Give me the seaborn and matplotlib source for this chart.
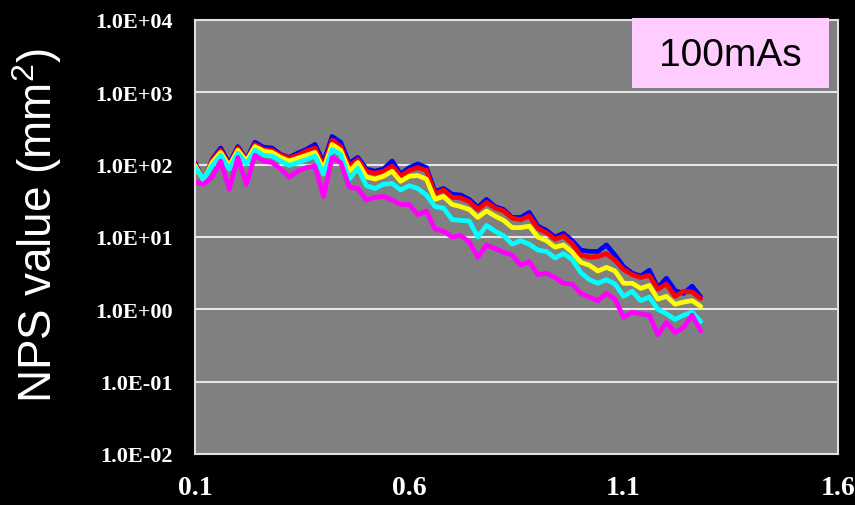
import numpy as np
import pandas as pd
import matplotlib
matplotlib.use("Agg")
import matplotlib.pyplot as plt
import seaborn as sns
from matplotlib.patches import Rectangle
from matplotlib.ticker import NullLocator

# spatial frequency (cycles/mm)
freq = [0.10, 0.12, 0.14, 0.16, 0.18, 0.20, 0.22, 0.24, 0.26, 0.28,
        0.30, 0.32, 0.34, 0.36, 0.38, 0.40, 0.42, 0.44, 0.46, 0.48,
        0.50, 0.52, 0.54, 0.56, 0.58, 0.60, 0.62, 0.64, 0.66, 0.68,
        0.70, 0.72, 0.74, 0.76, 0.78, 0.80, 0.82, 0.84, 0.86, 0.88,
        0.90, 0.92, 0.94, 0.96, 0.98, 1.00, 1.02, 1.04, 1.06, 1.08,
        1.10, 1.12, 1.14, 1.16, 1.18, 1.20, 1.22, 1.24, 1.26, 1.28]

# log10 of NPS
blue_log = [2.03, 1.76, 2.07, 2.23, 2.01, 2.25, 2.07, 2.31, 2.24, 2.23,
            2.14, 2.10, 2.16, 2.21, 2.28, 2.03, 2.39, 2.31, 2.02, 2.10,
            1.94, 1.91, 1.94, 2.05, 1.87, 1.96, 2.01, 1.96, 1.63, 1.67,
            1.59, 1.58, 1.52, 1.41, 1.52, 1.42, 1.38, 1.27, 1.27, 1.34,
            1.15, 1.09, 1.00, 1.05, 0.95, 0.82, 0.80, 0.80, 0.89, 0.75,
            0.59, 0.50, 0.46, 0.54, 0.30, 0.43, 0.26, 0.22, 0.32, 0.17]
red_log = [2.01, 1.77, 2.06, 2.20, 1.99, 2.23, 2.06, 2.28, 2.21, 2.20,
           2.13, 2.09, 2.13, 2.19, 2.23, 1.99, 2.34, 2.25, 1.98, 2.07,
           1.91, 1.88, 1.91, 1.98, 1.84, 1.92, 1.96, 1.92, 1.60, 1.65,
           1.55, 1.54, 1.49, 1.38, 1.48, 1.40, 1.36, 1.26, 1.24, 1.29,
           1.12, 1.06, 0.97, 1.01, 0.91, 0.75, 0.72, 0.73, 0.77, 0.68,
           0.55, 0.48, 0.44, 0.47, 0.28, 0.35, 0.18, 0.25, 0.24, 0.15]
yellow_log = [1.99, 1.78, 2.03, 2.17, 1.98, 2.20, 2.05, 2.25, 2.19, 2.17,
              2.10, 2.05, 2.09, 2.13, 2.17, 1.94, 2.28, 2.20, 1.91, 2.03,
              1.83, 1.80, 1.84, 1.91, 1.77, 1.84, 1.85, 1.80, 1.52, 1.56,
              1.45, 1.42, 1.38, 1.27, 1.36, 1.29, 1.23, 1.13, 1.13, 1.15,
              1.00, 0.95, 0.86, 0.89, 0.79, 0.65, 0.61, 0.53, 0.58, 0.53,
              0.36, 0.36, 0.29, 0.33, 0.14, 0.18, 0.07, 0.10, 0.12, 0.04]
cyan_log = [1.96, 1.80, 1.99, 2.13, 1.94, 2.16, 2.01, 2.20, 2.13, 2.12,
            2.05, 1.99, 2.03, 2.07, 2.12, 1.87, 2.21, 2.14, 1.80, 1.95,
            1.71, 1.67, 1.73, 1.74, 1.65, 1.71, 1.67, 1.58, 1.42, 1.40,
            1.24, 1.23, 1.22, 1.00, 1.16, 1.08, 1.02, 0.90, 0.95, 0.90,
            0.82, 0.80, 0.71, 0.77, 0.69, 0.51, 0.41, 0.36, 0.41, 0.35,
            0.18, 0.25, 0.12, 0.17, 0.00, -0.06, -0.14, -0.08, -0.04, -0.17]
magenta_log = [1.76, 1.73, 1.83, 2.05, 1.66, 2.10, 1.73, 2.13, 2.05, 2.03,
               1.94, 1.83, 1.91, 1.96, 1.98, 1.56, 2.10, 2.03, 1.69, 1.67,
               1.51, 1.55, 1.56, 1.51, 1.45, 1.45, 1.31, 1.36, 1.11, 1.08,
               1.00, 1.02, 0.93, 0.72, 0.89, 0.84, 0.79, 0.75, 0.61, 0.66,
               0.48, 0.50, 0.44, 0.36, 0.35, 0.22, 0.17, 0.12, 0.22, 0.14,
               -0.11, -0.04, -0.06, -0.08, -0.35, -0.18, -0.32, -0.25, -0.08, -0.30]

series_names = ["blue", "red", "yellow", "cyan", "magenta"]
series_colors = ["#0000FF", "#FF0000", "#FFFF00", "#00FFFF", "#FF00FF"]

x_ticks = [0.1, 0.6, 1.1, 1.6]
x_labels = ["0.1", "0.6", "1.1", "1.6"]
y_ticks = [1e-2, 1e-1, 1e0, 1e1, 1e2, 1e3, 1e4]
y_labels = ["1.0E-02", "1.0E-01", "1.0E+00", "1.0E+01", "1.0E+02", "1.0E+03", "1.0E+04"]

rows = []
for name, vals in zip(series_names, [blue_log, red_log, yellow_log, cyan_log, magenta_log]):
    for f, v in zip(freq, vals):
        rows.append({"freq": f, "nps": 10 ** v, "series": name})
df = pd.DataFrame(rows)

sns.set_theme(style="white")
plt.rcParams["font.family"] = ["Liberation Sans", "DejaVu Sans"]

fig = plt.figure(figsize=(8.55, 5.06), dpi=100, facecolor="black")
ax = fig.add_axes([0.228, 0.1008, 0.752, 0.8577])
ax.set_facecolor("#808080")

sns.lineplot(data=df, x="freq", y="nps", hue="series", hue_order=series_names,
             palette=series_colors, linewidth=3.4, legend=False, ax=ax,
             estimator=None, sort=False)

ax.set_yscale("log")
ax.set_ylim(1e-2, 1e4)
ax.set_xlim(0.1, 1.6)
ax.yaxis.set_minor_locator(NullLocator())
ax.set_xticks(x_ticks)
ax.set_xticklabels(x_labels, fontfamily="Liberation Serif", fontweight="bold",
                   fontsize=20, color="white")
ax.set_yticks(y_ticks)
ax.set_yticklabels(y_labels, fontfamily="Liberation Serif", fontweight="bold",
                   fontsize=16, color="white")
ax.tick_params(axis="both", direction="in", color="#e6e6e6", length=4, width=1)
ax.tick_params(axis="y", pad=16)
ax.tick_params(axis="x", pad=15)
ax.set_xlabel("")
ax.set_ylabel("")

ax.yaxis.grid(True, color="#e6e6e6", linewidth=1.5)
ax.xaxis.grid(False)
ax.set_axisbelow(True)
for sp in ax.spines.values():
    sp.set_color("#e0e0e0")
    sp.set_linewidth(1.5)

fig.text(37 / 855, 1 - 225 / 506, r"NPS value (mm$^\mathregular{2}$)", rotation=90,
         ha="center", va="center", color="white", fontsize=33)

fig.patches.append(Rectangle((632 / 855, 1 - 89 / 506), 197 / 855, 70 / 506,
                             transform=fig.transFigure, facecolor="#FFCCFF",
                             edgecolor="none", zorder=5))
fig.text(730 / 855, 1 - 56 / 506, "100mAs", ha="center", va="center",
         color="black", fontsize=28, zorder=6)

fig.savefig("out.png", dpi=100, facecolor="black")
